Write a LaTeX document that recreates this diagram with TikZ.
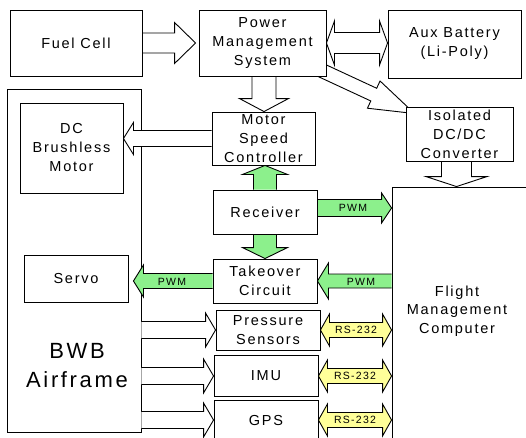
\documentclass[tikz,border=0pt]{standalone}
\usepackage{fontspec}
\setmainfont{Liberation Sans}[LetterSpace=12]
\usepackage{xcolor}
\definecolor{pwmgreen}{HTML}{8CF08C}
\definecolor{rsyellow}{HTML}{FFFF99}
\usepackage{tikz}
\usetikzlibrary{calc,backgrounds}

% angle and length from #1 to #2
\newcommand{\arrsetup}[2]{%
  \path let \p1=($(#2)-(#1)$) in \pgfextra{%
    \pgfmathsetmacro{\arrang}{atan2(\y1,\x1)}\global\let\arrang\arrang
    \pgfmathsetmacro{\arrlen}{veclen(\x1,\y1)}\global\let\arrlen\arrlen};}
% [style]{from}{to}{shaft half}{head half}{head length}
\newcommand{\blockarrow}[6][]{%
  \arrsetup{#2}{#3}
  \draw[shift={(#2)}, rotate=\arrang, #1] (0,#4) -- (\arrlen-#6,#4) -- (\arrlen-#6,#5)
    -- (\arrlen,0) -- (\arrlen-#6,-#5) -- (\arrlen-#6,-#4) -- (0,-#4);}
\newcommand{\dblockarrow}[6][]{%
  \arrsetup{#2}{#3}
  \draw[shift={(#2)}, rotate=\arrang, #1] (0,0) -- (#6,#5) -- (#6,#4) -- (\arrlen-#6,#4)
    -- (\arrlen-#6,#5) -- (\arrlen,0) -- (\arrlen-#6,-#5) -- (\arrlen-#6,-#4)
    -- (#6,-#4) -- (#6,-#5) -- cycle;}

\begin{document}
\begin{tikzpicture}[x=1pt, y=-1pt,
    box/.style={draw, line width=0.9pt, fill=white, align=center, inner sep=1pt, font=\fontsize{14.5}{19}\selectfont},
    txt/.style={align=center, inner sep=0pt, font=\fontsize{14.5}{19}\selectfont},
    sig/.style={inner sep=0pt, font=\fontsize{10.5}{12}\selectfont},
    hollow/.style={draw, line width=0.9pt, fill=white},
    pwm/.style={draw, line width=0.9pt, fill=pwmgreen},
    rs/.style={draw, line width=0.9pt, fill=rsyellow}
  ]
  \useasboundingbox (0,0) rectangle (526,437);
  \clip (0,0) rectangle (526,437);
  \begin{pgfonlayer}{background}
    \node[box, minimum width=134, minimum height=343] (af) at (74,260.5) {};
  \end{pgfonlayer}
  \node[txt, font=\fontsize{22}{29}\selectfont] (aflbl) at (77,366) {BWB\\Airframe};
  \node[box, minimum width=132, minimum height=66] (fc) at (76,43) {Fuel Cell};
  \node[box, minimum width=127, minimum height=66] (pms) at (262.5,43) {Power\\Management\\System};
  \node[box, minimum width=133, minimum height=68] (aux) at (454.5,44) {Aux Battery\\(Li-Poly)};
  \node[box, minimum width=103, minimum height=90] (dcm) at (71.5,148) {DC\\Brushless\\Motor};
  \node[box, minimum width=103, minimum height=53] (msc) at (263.5,138.5) {Motor\\Speed\\Controller};
  \node[box, minimum width=107, minimum height=54] (iso) at (459.5,134) {Isolated\\DC/DC\\Converter};
  \node[box, minimum width=104, minimum height=44] (rx) at (265,212) {Receiver};
  \node[box, minimum width=168, minimum height=293] (fmc) at (476,333.5) {};
  \node[txt, font=\fontsize{14.5}{18.5}\selectfont] (fmclbl) at (457,311) {Flight\\Management\\Computer};
  \node[box, minimum width=104, minimum height=47] (servo) at (76,278.5) {Servo};
  \node[box, minimum width=104, minimum height=44] (to) at (265,281) {Takeover\\Circuit};
  \node[box, minimum width=104, minimum height=40] (ps) at (268,330) {Pressure\\Sensors};
  \node[box, minimum width=104, minimum height=41] (imu) at (266,376) {IMU};
  \node[box, minimum width=104, minimum height=40] (gps) at (266,420) {GPS};

  \coordinate (pmsin) at ($(pms.west)+(-3,0)$);
  \coordinate (pmsout) at ($(pms.south)+(1.5,0)$);
  \coordinate (isotip) at ($(iso.north west)+(9,7)$);
  \coordinate (isoout) at ($(iso.south)+(-3,0)$);
  \coordinate (rxout) at ($(rx.east)+(0,-4)$);
  \coordinate (servoin) at ($(servo.east |- to.west)+(5,0)$);

  \begin{pgfonlayer}{background}
    \blockarrow[hollow]{fc.east}{pmsin}{10}{20.5}{21}
    \dblockarrow[hollow]{pms.east}{aux.west |- pms.east}{10.5}{22}{8}
    \blockarrow[hollow]{pmsout}{msc.north -| pmsout}{12}{24.5}{13}
    \blockarrow[hollow]{pms.center}{isotip}{7}{15}{45}
    \blockarrow[hollow]{msc.west}{dcm.east |- msc.west}{8}{16}{10}
    \blockarrow[hollow]{isoout}{fmc.north -| isoout}{15}{30.5}{10}
    \blockarrow[pwm]{rx.north}{msc.south -| rx.north}{11.5}{22.5}{9}
    \blockarrow[pwm]{rx.south}{to.north}{11.5}{22.5}{11}
    \blockarrow[pwm]{rxout}{fmc.west |- rxout}{8.5}{15}{10}
    \blockarrow[pwm]{to.west}{servoin}{7.5}{16}{10}
    \blockarrow[pwm]{fmc.west |- to.east}{to.east}{7}{18}{11}
    \node[sig] (pwmrx) at (353,207.5) {PWM};
    \node[sig] (pwmservo) at (172,281.5) {PWM};
    \node[sig] (pwmfmc) at (361,281.5) {PWM};
    \foreach \s in {ps,imu,gps} {
      \blockarrow[hollow]{af.east |- \s.west}{\s.west}{8.5}{17}{10}
      \dblockarrow[rs]{\s.east}{fmc.west |- \s.east}{7.5}{16}{9}
      \node[sig] (rs\s) at ($(\s.east)!0.5!(fmc.west |- \s.east)$) {RS-232};
    }
  \end{pgfonlayer}
\end{tikzpicture}
\end{document}
